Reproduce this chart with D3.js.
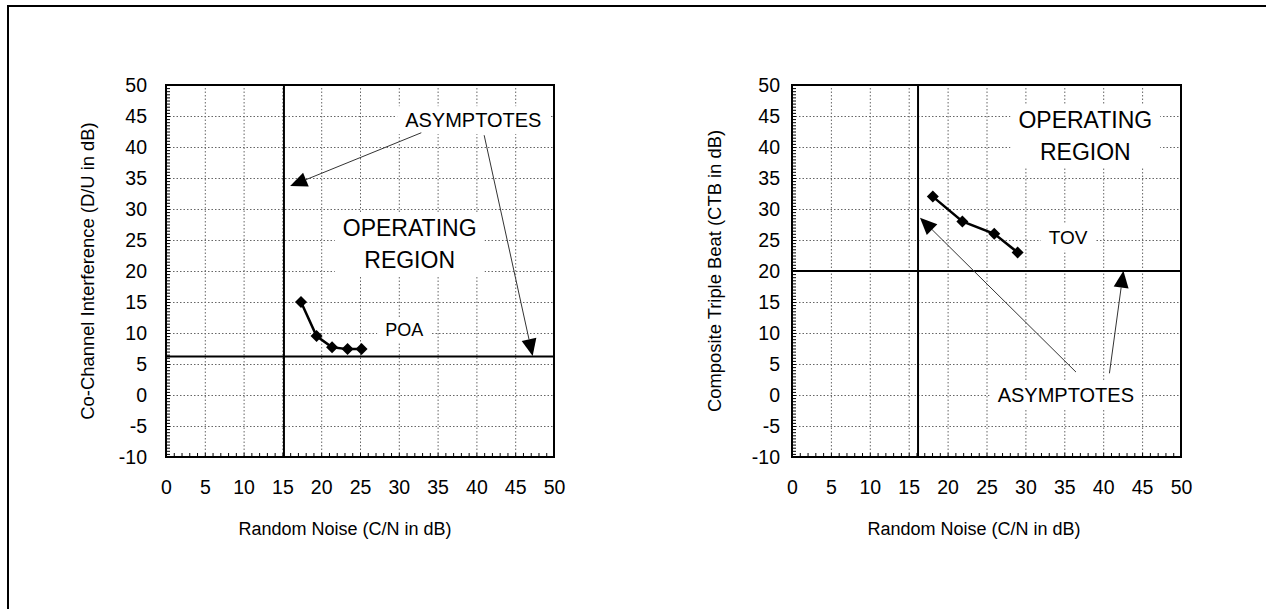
<!DOCTYPE html>
<html>
<head>
<meta charset="utf-8">
<script src="https://cdn.jsdelivr.net/npm/d3@7"></script>
<style>
  body { margin: 0; background: #fff; }
  svg { display: block; }
  text { font-family: Arial, "Liberation Sans", sans-serif; fill: #000; }
</style>
</head>
<body>
<div id="chart"></div>
<script>
// axis ticks
const xTicks = [0, 5, 10, 15, 20, 25, 30, 35, 40, 45, 50];
const yTicks = [-10, -5, 0, 5, 10, 15, 20, 25, 30, 35, 40, 45, 50];

// POA: random noise vs co-channel interference
const poaCN = [17.4, 19.4, 21.4, 23.4, 25.2];
const poaDU = [15, 9.5, 7.7, 7.4, 7.4];
const poaAsymptote = [15.2, 6.2]; // [C/N, D/U]

// TOV: random noise vs composite triple beat
const tovCN = [18.1, 21.9, 26, 29];
const tovCTB = [32, 28, 26, 23];
const tovAsymptote = [16.2, 20]; // [C/N, CTB]

const W = 1266, H = 609;

const svg = d3.select("#chart").append("svg")
  .attr("width", W).attr("height", H);

// outer frame (runs off the right / bottom edge)
svg.append("rect")
  .attr("x", 8).attr("y", 6)
  .attr("width", 1300).attr("height", 700)
  .attr("fill", "none").attr("stroke", "#000").attr("stroke-width", 2);

function drawPanel(cfg) {
  const x = d3.scaleLinear().domain([0, 50]).range([cfg.left, cfg.right]);
  const y = d3.scaleLinear().domain([-10, 50]).range([cfg.bottom, cfg.top]);
  const w = cfg.right - cfg.left, h = cfg.bottom - cfg.top;
  const g = svg.append("g");

  // dotted grid
  g.append("g")
    .attr("transform", `translate(0,${cfg.bottom})`)
    .call(d3.axisBottom(x).tickValues(xTicks.slice(1, -1)).tickSize(-h).tickFormat(""))
    .call(s => s.select(".domain").remove())
    .selectAll("line").attr("stroke", "#666").attr("stroke-dasharray", "1.5,2");
  g.append("g")
    .attr("transform", `translate(${cfg.left},0)`)
    .call(d3.axisLeft(y).tickValues(yTicks.slice(1, -1)).tickSize(-w).tickFormat(""))
    .call(s => s.select(".domain").remove())
    .selectAll("line").attr("stroke", "#666").attr("stroke-dasharray", "1.5,2");

  // minor ticks, pointing inward
  g.append("g")
    .attr("transform", `translate(0,${cfg.bottom})`)
    .call(d3.axisBottom(x).tickValues(d3.range(0, 51, 1)).tickSize(-4).tickFormat(""))
    .call(s => s.select(".domain").remove())
    .selectAll("line").attr("stroke", "#000").attr("stroke-width", 1);
  g.append("g")
    .attr("transform", `translate(${cfg.left},0)`)
    .call(d3.axisLeft(y).tickValues(d3.range(-10, 50.01, 0.5)).tickSize(-4).tickFormat(""))
    .call(s => s.select(".domain").remove())
    .selectAll("line").attr("stroke", "#000").attr("stroke-width", 1);

  // tick labels (plain hyphen for negatives)
  g.append("g")
    .attr("transform", `translate(0,${cfg.bottom})`)
    .call(d3.axisBottom(x).tickValues(xTicks).tickSize(0).tickPadding(23).tickFormat(d => String(d)))
    .call(s => s.select(".domain").remove())
    .selectAll("text").attr("font-size", 19.5).attr("font-family", "Arial, 'Liberation Sans'").attr("fill", "#000");
  g.append("g")
    .attr("transform", `translate(${cfg.left},0)`)
    .call(d3.axisLeft(y).tickValues(yTicks).tickSize(0).tickPadding(cfg.yPad).tickFormat(d => String(d)))
    .call(s => s.select(".domain").remove())
    .selectAll("text").attr("font-size", 19.5).attr("font-family", "Arial, 'Liberation Sans'").attr("fill", "#000");

  // axis titles
  g.append("text")
    .attr("x", cfg.xTitleX).attr("y", cfg.bottom + 78)
    .attr("text-anchor", "middle").attr("font-size", 18)
    .text("Random Noise (C/N in dB)");
  g.append("text")
    .attr("transform", `translate(${cfg.yTitleX},${(cfg.top + cfg.bottom) / 2}) rotate(-90)`)
    .attr("text-anchor", "middle").attr("font-size", 18.4)
    .text(cfg.yTitle);

  // asymptotes
  g.append("line")
    .attr("x1", x(cfg.asym[0])).attr("x2", x(cfg.asym[0]))
    .attr("y1", cfg.top).attr("y2", cfg.bottom)
    .attr("stroke", "#000").attr("stroke-width", 2);
  g.append("line")
    .attr("x1", cfg.left).attr("x2", cfg.right)
    .attr("y1", y(cfg.asym[1])).attr("y2", y(cfg.asym[1]))
    .attr("stroke", "#000").attr("stroke-width", 2);

  // text boxes with white fill
  cfg.labels.forEach(l => {
    const t = g.append("text")
      .attr("x", x(l.x)).attr("y", y(l.y))
      .attr("text-anchor", "middle").attr("font-size", l.size);
    l.lines.forEach((line, i) => {
      t.append("tspan").attr("x", x(l.x)).attr("dy", i === 0 ? 0 : l.size * 1.37).text(line);
    });
    const bb = t.node().getBBox();
    g.insert("rect", () => t.node())
      .attr("x", bb.x - 8).attr("y", bb.y - 3)
      .attr("width", bb.width + 16).attr("height", bb.height + 6)
      .attr("fill", "#fff");
  });

  // arrows
  cfg.arrows.forEach(a => {
    const x1 = x(a[0]), y1 = y(a[1]), x2 = x(a[2]), y2 = y(a[3]);
    const ang = Math.atan2(y2 - y1, x2 - x1);
    const len = 17, hw = 7.5;
    const bx = x2 - len * Math.cos(ang), by = y2 - len * Math.sin(ang);
    g.append("line")
      .attr("x1", x1).attr("y1", y1).attr("x2", bx).attr("y2", by)
      .attr("stroke", "#333").attr("stroke-width", 1);
    const px = -Math.sin(ang) * hw, py = Math.cos(ang) * hw;
    g.append("path")
      .attr("d", `M${x2},${y2}L${bx + px},${by + py}L${bx - px},${by - py}Z`)
      .attr("fill", "#000");
  });

  // series
  const pts = cfg.xs.map((v, i) => [x(v), y(cfg.ys[i])]);
  g.append("path")
    .attr("d", d3.line()(pts))
    .attr("fill", "none").attr("stroke", "#000").attr("stroke-width", 2.5);
  g.selectAll(null).data(pts).enter().append("path")
    .attr("d", d => `M${d[0]},${d[1] - 6}L${d[0] + 6},${d[1]}L${d[0]},${d[1] + 6}L${d[0] - 6},${d[1]}Z`)
    .attr("fill", "#000");

  // plot frame
  g.append("rect")
    .attr("x", cfg.left).attr("y", cfg.top)
    .attr("width", w).attr("height", h)
    .attr("fill", "none").attr("stroke", "#000").attr("stroke-width", 2);
}

drawPanel({
  left: 166, right: 554, top: 85, bottom: 457, yPad: 19,
  xTitleX: 345, yTitleX: 94,
  yTitle: "Co-Channel Interference (D/U in dB)",
  xs: poaCN, ys: poaDU, asym: poaAsymptote,
  labels: [
    { x: 39.6, y: 43.2, size: 20, lines: ["ASYMPTOTES"] },
    { x: 31.4, y: 25.6, size: 23, lines: ["OPERATING", "REGION"] },
    { x: 30.7, y: 9.5, size: 18, lines: ["POA"] }
  ],
  arrows: [
    [32.9, 42.3, 16.0, 33.7],
    [41.0, 41.9, 47.25, 6.3]
  ]
});

drawPanel({
  left: 792, right: 1181, top: 85, bottom: 457, yPad: 12,
  xTitleX: 974, yTitleX: 721,
  yTitle: "Composite Triple Beat (CTB in dB)",
  xs: tovCN, ys: tovCTB, asym: tovAsymptote,
  labels: [
    { x: 37.7, y: 43.0, size: 23, lines: ["OPERATING", "REGION"] },
    { x: 35.5, y: 24.4, size: 19, lines: ["TOV"] },
    { x: 35.2, y: -1.1, size: 20, lines: ["ASYMPTOTES"] }
  ],
  arrows: [
    [36.5, 3.7, 16.45, 28.6],
    [40.8, 3.5, 42.6, 20.05]
  ]
});
</script>
</body>
</html>
